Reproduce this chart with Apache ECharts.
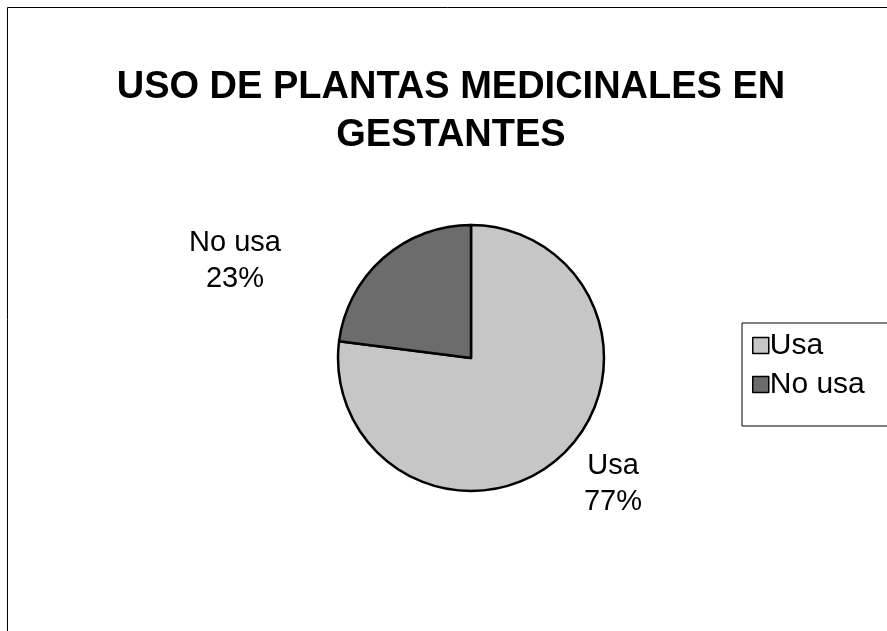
<!DOCTYPE html>
<html>
<head>
<meta charset="utf-8">
<script src="https://cdn.jsdelivr.net/npm/echarts@6/dist/echarts.min.js"></script>
<style>
	html, body { margin: 0; padding: 0; background: #fff; }
	#mychart { width: 887px; height: 631px; }
</style>
</head>
<body>
<div id="mychart"></div>
<script>
var categories = ['Usa', 'No usa'];
var percents = [77, 23];
var sliceColors = ['#c6c6c6', '#6c6c6c'];

var myChart = echarts.init(document.getElementById('mychart'));

// label spots picked off the original (centre of each two-line label)
var labelSpots = [[613, 484], [235, 261]];

var pieData = [];
for (var i = 0; i < categories.length; i++) {
	pieData.push({
		name: categories[i],
		value: percents[i],
		itemStyle: { color: sliceColors[i] }
	});
}

var option = {
	backgroundColor: '#fff',
	animation: false,
	title: {
		text: 'USO DE PLANTAS MEDICINALES EN\nGESTANTES',
		left: 446,
		top: 59,
		textAlign: 'center',
		textStyle: {
			fontFamily: 'Liberation Sans, Arial',
			fontWeight: 'bold',
			fontSize: 38,
			lineHeight: 48,
			color: '#000'
		}
	},
	legend: {
		orient: 'vertical',
		left: 742,
		top: 323,
		padding: [7, 30, 26, 10],
		borderColor: '#000',
		borderWidth: 1,
		itemWidth: 16,
		itemHeight: 16,
		itemGap: 8,
		icon: 'rect',
		itemStyle: { borderColor: '#000', borderWidth: 1.5 },
		textStyle: {
			fontFamily: 'Liberation Sans, Arial',
			fontSize: 30,
			lineHeight: 31,
			color: '#000',
			padding: [0, 0, 0, -4]
		},
		data: categories
	},
	graphic: [{
		type: 'rect',
		shape: { x: 7.5, y: 7.5, width: 900, height: 640 },
		style: { fill: 'none', stroke: '#000', lineWidth: 1 },
		silent: true
	}],
	series: [{
		type: 'pie',
		center: [471, 358],
		radius: 133,
		startAngle: 90,
		clockwise: true,
		itemStyle: { borderColor: '#000', borderWidth: 2.5 },
		label: {
			show: true,
			position: 'outside',
			formatter: '{b}\n{c}%',
			fontFamily: 'Liberation Sans, Arial',
			fontSize: 29,
			lineHeight: 36,
			color: '#000',
			align: 'center'
		},
		labelLine: { show: false },
		labelLayout: function(params) {
			var p = labelSpots[params.dataIndex];
			return { x: p[0], y: p[1], align: 'center', verticalAlign: 'middle' };
		},
		emphasis: { disabled: true },
		data: pieData
	}]
};
myChart.setOption(option);
window.onresize = myChart.resize;
</script>
</body>
</html>
